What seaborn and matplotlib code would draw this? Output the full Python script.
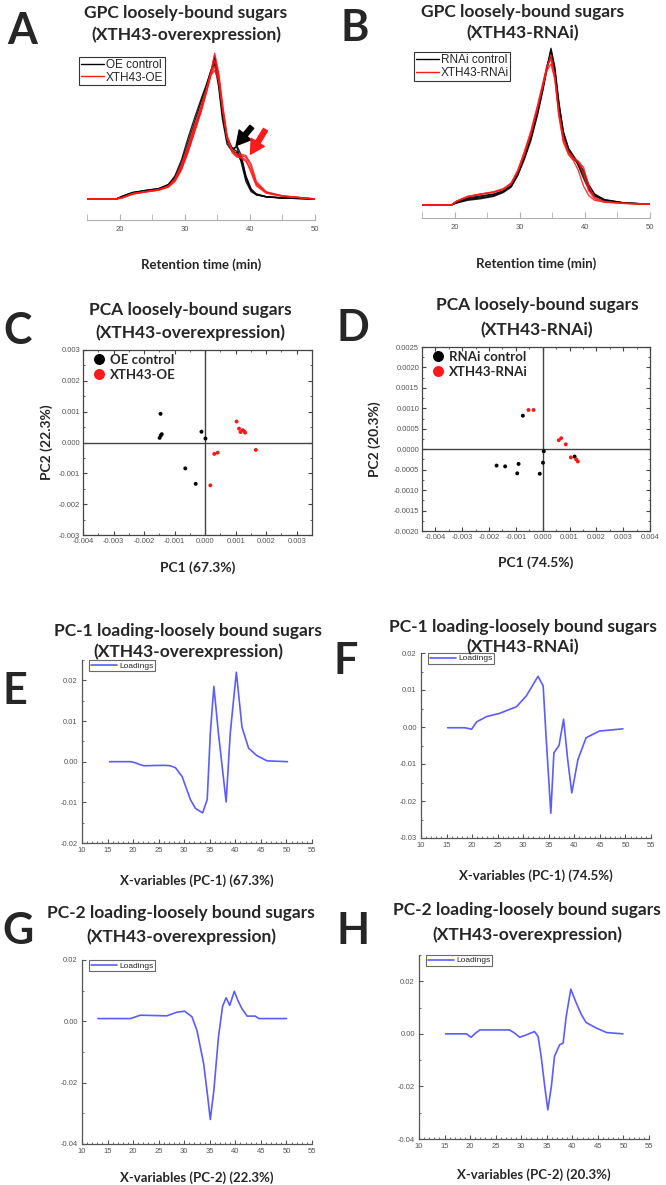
import numpy as np
import pandas as pd
import matplotlib
matplotlib.use("Agg")
import matplotlib.pyplot as plt
import seaborn as sns
from matplotlib.ticker import MultipleLocator, FormatStrFormatter

# ---------------- data ----------------
# GPC, panel A: retention time grid and normalised signal of each replicate
gpc_a_time = [15, 19.5, 20.5, 22, 24, 26, 27.5, 28.5, 29.5, 30.5, 31.5, 32.5, 33.3, 34.0,
              34.6, 35.2, 35.8, 36.5, 37.3, 38.0, 38.7, 39.4, 40.2, 41.0, 42.5, 45, 50]
oe_control = [
    [0, 0, 0.020, 0.045, 0.058, 0.070, 0.095, 0.14, 0.23, 0.35, 0.49, 0.63, 0.76, 0.88,
     0.97, 0.80, 0.58, 0.40, 0.35, 0.36, 0.25, 0.12, 0.05, 0.030, 0.015, 0.008, 0],
    [0, 0, 0.015, 0.040, 0.055, 0.068, 0.100, 0.15, 0.25, 0.39, 0.53, 0.67, 0.78, 0.89,
     0.93, 0.78, 0.55, 0.38, 0.33, 0.37, 0.30, 0.15, 0.06, 0.030, 0.015, 0.006, 0],
    [0, 0, 0.018, 0.042, 0.060, 0.072, 0.100, 0.16, 0.27, 0.42, 0.56, 0.69, 0.79, 0.88,
     0.95, 0.82, 0.60, 0.41, 0.33, 0.32, 0.26, 0.14, 0.06, 0.028, 0.014, 0.006, 0],
    [0, 0, 0.020, 0.044, 0.057, 0.070, 0.090, 0.13, 0.21, 0.33, 0.47, 0.61, 0.74, 0.87,
     0.99, 0.85, 0.62, 0.43, 0.35, 0.33, 0.28, 0.16, 0.07, 0.035, 0.016, 0.007, 0],
]
xth43_oe = [
    [0, 0, 0.010, 0.035, 0.050, 0.062, 0.085, 0.13, 0.22, 0.34, 0.48, 0.62, 0.75, 0.88,
     1.01, 0.88, 0.66, 0.44, 0.33, 0.30, 0.30, 0.29, 0.22, 0.11, 0.045, 0.020, 0],
    [0, 0, 0.012, 0.038, 0.052, 0.065, 0.090, 0.14, 0.24, 0.37, 0.51, 0.64, 0.76, 0.87,
     0.96, 0.86, 0.64, 0.43, 0.32, 0.29, 0.29, 0.27, 0.18, 0.09, 0.040, 0.018, 0],
    [0, 0, 0.008, 0.032, 0.048, 0.060, 0.082, 0.12, 0.20, 0.32, 0.46, 0.60, 0.73, 0.85,
     0.92, 0.84, 0.63, 0.42, 0.34, 0.31, 0.31, 0.30, 0.24, 0.12, 0.050, 0.022, 0],
    [0, 0, 0.010, 0.036, 0.050, 0.063, 0.088, 0.135, 0.23, 0.35, 0.49, 0.63, 0.75, 0.86,
     0.89, 0.82, 0.62, 0.42, 0.33, 0.30, 0.28, 0.26, 0.20, 0.10, 0.045, 0.020, 0],
]

# GPC, panel B
gpc_b_time = [15, 19.5, 20.3, 22, 24, 26, 27.5, 28.7, 29.7, 30.7, 31.7, 32.7, 33.5, 34.2,
              34.8, 35.4, 36.0, 36.7, 37.5, 38.3, 39.0, 39.8, 40.6, 41.5, 43, 46, 50]
rnai_control = [
    [0, 0, 0.020, 0.045, 0.058, 0.070, 0.090, 0.120, 0.19, 0.29, 0.41, 0.57, 0.72, 0.87,
     0.99, 0.86, 0.64, 0.45, 0.35, 0.30, 0.26, 0.19, 0.11, 0.060, 0.030, 0.013, 0.005],
    [0, 0, 0.015, 0.035, 0.045, 0.060, 0.085, 0.120, 0.20, 0.31, 0.44, 0.60, 0.75, 0.89,
     0.97, 0.84, 0.62, 0.44, 0.34, 0.29, 0.27, 0.22, 0.13, 0.070, 0.035, 0.014, 0.005],
    [0, 0, 0.012, 0.030, 0.040, 0.055, 0.080, 0.115, 0.19, 0.30, 0.43, 0.59, 0.74, 0.88,
     0.95, 0.85, 0.65, 0.47, 0.36, 0.31, 0.25, 0.17, 0.10, 0.055, 0.030, 0.012, 0.005],
    [0, 0, 0.018, 0.040, 0.052, 0.066, 0.090, 0.125, 0.20, 0.30, 0.42, 0.58, 0.73, 0.88,
     1.00, 0.88, 0.66, 0.46, 0.36, 0.31, 0.27, 0.20, 0.12, 0.065, 0.032, 0.013, 0.005],
]
xth43_rnai = [
    [0, 0, 0.025, 0.055, 0.070, 0.085, 0.105, 0.140, 0.22, 0.33, 0.46, 0.62, 0.76, 0.88,
     0.96, 0.82, 0.58, 0.41, 0.33, 0.29, 0.27, 0.20, 0.09, 0.040, 0.020, 0.010, 0.005],
    [0, 0, 0.022, 0.052, 0.068, 0.080, 0.100, 0.135, 0.21, 0.32, 0.45, 0.61, 0.75, 0.86,
     0.90, 0.80, 0.57, 0.40, 0.32, 0.28, 0.22, 0.12, 0.06, 0.030, 0.018, 0.010, 0.005],
    [0, 0, 0.024, 0.054, 0.070, 0.082, 0.100, 0.140, 0.22, 0.34, 0.47, 0.63, 0.77, 0.89,
     0.93, 0.81, 0.60, 0.43, 0.34, 0.30, 0.28, 0.24, 0.12, 0.050, 0.022, 0.011, 0.005],
]

# PCA scores, panel C
oe_ctrl_pc1 = [-0.00146, -0.00149, -0.00145, -0.00142, -0.00012, 0.00001, -0.00065, -0.00031]
oe_ctrl_pc2 = [0.00093, 0.00015, 0.00023, 0.00027, 0.00035, 0.00013, -0.00084, -0.00134]
oe_pc1 = [0.00103, 0.00111, 0.00116, 0.00123, 0.00128, 0.00131, 0.00166, 0.00030, 0.00041, 0.00017]
oe_pc2 = [0.00068, 0.00045, 0.00034, 0.00040, 0.00036, 0.00032, -0.00024, -0.00037, -0.00033, -0.00139]

# PCA scores, panel D
rnai_ctrl_pc1 = [-0.00074, -0.00172, -0.00140, -0.00090, -0.00095, -0.00011, 0.00001, 0.00004, 0.00119]
rnai_ctrl_pc2 = [0.00082, -0.00040, -0.00042, -0.00036, -0.00059, -0.00060, -0.00033, -0.00005, -0.00018]
rnai_pc1 = [-0.00053, -0.00034, 0.00060, 0.00069, 0.00086, 0.00105, 0.00125, 0.00131]
rnai_pc2 = [0.00096, 0.00096, 0.00022, 0.00027, 0.00012, -0.00020, -0.00025, -0.00030]

# loadings
e_x = [15.4, 19.5, 20.5, 21.5, 22.1, 26.0, 27.3, 28.3, 29.6, 31.2, 32.2, 33.6, 34.5, 35.1,
       35.8, 36.7, 38.2, 39.0, 40.2, 41.3, 42.6, 44.2, 46.2, 50.2]
e_y = [0, 0, -0.0003, -0.0008, -0.001, -0.0009, -0.001, -0.0015, -0.0037, -0.0093, -0.0115,
       -0.0126, -0.0093, 0.0069, 0.0185, 0.0069, -0.0099, 0.0069, 0.022, 0.0085, 0.0033,
       0.0015, 0.0002, 0]

f_x = [15.2, 18.6, 19.9, 20.9, 22.8, 25.4, 28.7, 30.6, 32.9, 33.9, 34.5, 35.4, 36.0, 37.0,
       37.9, 38.7, 39.5, 40.7, 42.3, 44.9, 49.5]
f_y = [-0.0002, -0.0002, -0.0006, 0.0014, 0.0028, 0.0037, 0.0055, 0.0084, 0.0137, 0.0111,
       -0.0033, -0.0233, -0.007, -0.005, 0.0021, -0.0088, -0.0178, -0.0088, -0.0029,
       -0.0011, -0.0005]

g_x = [13.1, 19.5, 21.4, 26.6, 28.6, 30.1, 31.5, 32.5, 33.8, 34.6, 35.1, 35.8, 36.7, 37.5,
       38.2, 38.9, 39.8, 40.5, 41.3, 42.3, 43.9, 44.6, 50.0]
g_y = [0.0009, 0.0009, 0.002, 0.0018, 0.003, 0.0033, 0.0015, -0.003, -0.0138, -0.0247,
       -0.032, -0.0225, -0.0051, 0.0049, 0.0077, 0.0052, 0.0098, 0.0068, 0.0041, 0.0017,
       0.0017, 0.0009, 0.0009]

h_x = [15.2, 19.3, 20.2, 20.9, 21.9, 27.7, 28.7, 29.7, 31.0, 32.6, 33.3, 33.9, 34.6, 35.2,
       35.9, 36.5, 37.5, 38.2, 38.8, 39.7, 40.8, 41.8, 42.7, 44.7, 46.7, 49.9]
h_y = [0, 0, -0.0013, 0, 0.0015, 0.0015, 0.0003, -0.0013, -0.0004, 0.0009, -0.001, -0.0086,
       -0.02, -0.0289, -0.02, -0.0086, -0.0042, -0.0035, 0.0066, 0.017, 0.0116, 0.0072,
       0.0043, 0.0022, 0.0005, 0]

# ---------------- figure ----------------
sns.set_style("white")
plt.rcParams['font.family'] = ['Liberation Sans', 'DejaVu Sans']

W, H = 666, 1185
fig = plt.figure(figsize=(W / 100, H / 100), dpi=100)

TITLE_FONT = 'Lato'
TICK_COLOR = '#555555'
BLUE = '#5c5cff'
RED = '#ff1a1a'


def px_axes(left, top, right, bottom):
    return fig.add_axes([left / W, 1 - bottom / H, (right - left) / W, (bottom - top) / H])


def ftext(x, y, s, size, **kw):
    fig.text(x / W, 1 - y / H, s, fontsize=size, ha='center', va='center', **kw)


def title(xc, y1, y2, line1, line2):
    ftext(xc, y1, line1, 12.5, family=TITLE_FONT, weight='bold')
    ftext(xc, y2, line2, 12.5, family=TITLE_FONT, weight='bold')


def letter(x, y, s):
    ftext(x, y, s, 31, family=TITLE_FONT, weight='bold')


def gpc_frame(time, groups):
    rows = []
    for name, reps in groups.items():
        for k, ys in enumerate(reps):
            for t, v in zip(time, ys):
                rows.append((name, k, t, v))
    return pd.DataFrame(rows, columns=['group', 'rep', 'time', 'signal'])


def gpc_panel(ax, df, labels):
    sns.lineplot(data=df, x='time', y='signal', hue='group', units='rep', estimator=None,
                 palette={labels[0]: 'black', labels[1]: RED}, lw=1.0, alpha=0.85,
                 ax=ax, legend=True)
    ax.set_xlim(15, 50)
    for s in ['left', 'right', 'top']:
        ax.spines[s].set_visible(False)
    ax.spines['bottom'].set_color('#b0b0b0')
    ax.set_yticks([])
    ax.xaxis.set_major_locator(MultipleLocator(10))
    ax.xaxis.set_minor_locator(MultipleLocator(5))
    ax.tick_params(axis='x', which='both', direction='in', length=4, color='#b0b0b0',
                   labelsize=5.5, labelcolor=TICK_COLOR, pad=4, bottom=True)
    ax.set_xlabel('Retention time (min)', fontsize=9.5, family=TITLE_FONT, weight='bold')
    ax.set_ylabel('')
    leg = ax.legend(loc='upper left', bbox_to_anchor=(-0.035, 0.93), fontsize=8.5,
                    frameon=True, fancybox=False, handlelength=2.0, handletextpad=0.1,
                    borderpad=0.15, labelspacing=0.05, borderaxespad=0)
    leg.get_frame().set_edgecolor('black')
    leg.get_frame().set_linewidth(0.8)
    for line in leg.get_lines():
        line.set_alpha(1)
        line.set_linewidth(1.0)
    return ax


def pca_panel(ax, df, labels, xlim, ylim, xstep, ystep, xfmt, yfmt):
    sns.scatterplot(data=df, x='pc1', y='pc2', hue='group',
                    palette={labels[0]: 'black', labels[1]: RED},
                    s=8, linewidth=0, ax=ax, legend=True)
    ax.axhline(0, color='#444444', lw=1.0, zorder=0)
    ax.axvline(0, color='#444444', lw=1.0, zorder=0)
    ax.set_xlim(*xlim)
    ax.set_ylim(*ylim)
    for s in ax.spines.values():
        s.set_color('#444444')
        s.set_linewidth(0.9)
    ax.xaxis.set_major_locator(MultipleLocator(xstep))
    ax.xaxis.set_minor_locator(MultipleLocator(xstep / 2))
    ax.yaxis.set_major_locator(MultipleLocator(ystep))
    ax.yaxis.set_minor_locator(MultipleLocator(ystep / 2))
    ax.xaxis.set_major_formatter(FormatStrFormatter(xfmt))
    ax.yaxis.set_major_formatter(FormatStrFormatter(yfmt))
    ax.tick_params(which='both', direction='in', top=True, right=True, left=True,
                   bottom=True, labelsize=5.5, labelcolor=TICK_COLOR, color='#444444', pad=2)
    ax.tick_params(which='major', length=3)
    ax.tick_params(which='minor', length=1.5)
    ax.legend(loc='upper left', bbox_to_anchor=(-0.005, 1.0), frameon=False, markerscale=2.8,
              prop={'family': TITLE_FONT, 'weight': 'bold', 'size': 9.5},
              handletextpad=-0.2, labelspacing=0.2, borderaxespad=0.2, borderpad=0.1)
    return ax


def loading_panel(ax, x, y, ylim, ystep, xlab):
    sns.lineplot(x=x, y=y, color=BLUE, lw=1.2, label='Loadings', ax=ax)
    ax.set_xlim(10, 55)
    ax.set_ylim(*ylim)
    for s in ['right', 'top']:
        ax.spines[s].set_visible(False)
    for s in ['left', 'bottom']:
        ax.spines[s].set_color('#555555')
        ax.spines[s].set_linewidth(0.9)
    ax.xaxis.set_major_locator(MultipleLocator(5))
    ax.xaxis.set_minor_locator(MultipleLocator(1))
    ax.yaxis.set_major_locator(MultipleLocator(ystep))
    ax.yaxis.set_minor_locator(MultipleLocator(ystep / 2))
    ax.yaxis.set_major_formatter(FormatStrFormatter('%.2f'))
    ax.tick_params(which='both', direction='in', left=True, bottom=True, labelsize=5.5,
                   labelcolor=TICK_COLOR, color='#555555', pad=3)
    ax.tick_params(which='major', length=3)
    ax.tick_params(which='minor', length=1.5)
    ax.set_xlabel(xlab, fontsize=9.5, family=TITLE_FONT, weight='bold')
    leg = ax.legend(loc='upper left', bbox_to_anchor=(0.03, 1.0), fontsize=6,
                    frameon=True, fancybox=False, handlelength=3.2, handletextpad=0.2,
                    borderpad=0.2, borderaxespad=0)
    leg.get_frame().set_edgecolor('#444444')
    leg.get_frame().set_linewidth(0.8)
    return ax


# ---- A ----
axA = px_axes(87, 45, 315, 220)
gpc_panel(axA, gpc_frame(gpc_a_time, {'OE control': oe_control, 'XTH43-OE': xth43_oe}),
          ['OE control', 'XTH43-OE'])
axA.set_ylim(-0.146, 1.067)
axA.xaxis.set_label_coords(0.5, -0.22)
axA.annotate('', xy=(37.9, 0.37), xytext=(40.3, 0.50),
             arrowprops=dict(facecolor='black', edgecolor='black', width=3.5, headwidth=11,
                             headlength=10, shrink=0))
axA.annotate('', xy=(40.1, 0.31), xytext=(42.4, 0.48),
             arrowprops=dict(facecolor=RED, edgecolor=RED, width=3.5, headwidth=11,
                             headlength=10, shrink=0))
title(186, 13, 35, 'GPC loosely-bound sugars', '(XTH43-overexpression)')
letter(22, 31, 'A')

# ---- B ----
axB = px_axes(422, 40, 650, 218)
gpc_panel(axB, gpc_frame(gpc_b_time, {'RNAi control': rnai_control, 'XTH43-RNAi': xth43_rnai}),
          ['RNAi control', 'XTH43-RNAi'])
axB.set_ylim(-0.083, 1.053)
axB.xaxis.set_label_coords(0.5, -0.22)
title(523, 12, 33, 'GPC loosely-bound sugars', '(XTH43-RNAi)')
letter(355, 28, 'B')

# ---- C ----
dfC = pd.DataFrame({'pc1': oe_ctrl_pc1 + oe_pc1, 'pc2': oe_ctrl_pc2 + oe_pc2,
                    'group': ['OE control'] * len(oe_ctrl_pc1) + ['XTH43-OE'] * len(oe_pc1)})
axC = px_axes(83, 350, 312, 535)
pca_panel(axC, dfC, ['OE control', 'XTH43-OE'], (-0.004, 0.0035), (-0.003, 0.003),
          0.001, 0.001, '%.3f', '%.3f')
axC.set_xlabel('PC1 (67.3%)', fontsize=10, family=TITLE_FONT, weight='bold')
axC.set_ylabel('PC2 (22.3%)', fontsize=10, family=TITLE_FONT, weight='bold')
axC.xaxis.set_label_coords(0.5, -0.14)
axC.yaxis.set_label_coords(-0.13, 0.5)
title(190, 310, 333, 'PCA loosely-bound sugars', '(XTH43-overexpression)')
letter(18, 331, 'C')

# ---- D ----
dfD = pd.DataFrame({'pc1': rnai_ctrl_pc1 + rnai_pc1, 'pc2': rnai_ctrl_pc2 + rnai_pc2,
                    'group': ['RNAi control'] * len(rnai_ctrl_pc1) + ['XTH43-RNAi'] * len(rnai_pc1)})
axD = px_axes(422, 347, 650, 531)
pca_panel(axD, dfD, ['RNAi control', 'XTH43-RNAi'], (-0.0045, 0.004), (-0.002, 0.0025),
          0.001, 0.0005, '%.3f', '%.4f')
axD.set_xlabel('PC1 (74.5%)', fontsize=10, family=TITLE_FONT, weight='bold')
axD.set_ylabel('PC2 (20.3%)', fontsize=10, family=TITLE_FONT, weight='bold')
axD.xaxis.set_label_coords(0.5, -0.14)
axD.yaxis.set_label_coords(-0.18, 0.5)
title(537, 305, 330, 'PCA loosely-bound sugars', '(XTH43-RNAi)')
letter(353, 328, 'D')

# ---- E-H ----
axE = px_axes(82, 660, 312, 843)
loading_panel(axE, e_x, e_y, (-0.02, 0.025), 0.01, 'X-variables (PC-1) (67.3%)')
axE.xaxis.set_label_coords(0.5, -0.17)
title(188, 631, 652, 'PC-1 loading-loosely bound sugars', '(XTH43-overexpression)')
letter(15, 691, 'E')

axF = px_axes(421, 653, 651, 838)
loading_panel(axF, f_x, f_y, (-0.03, 0.02), 0.01, 'X-variables (PC-1) (74.5%)')
axF.xaxis.set_label_coords(0.5, -0.17)
title(523, 627, 647, 'PC-1 loading-loosely bound sugars', '(XTH43-RNAi)')
letter(346, 661, 'F')

axG = px_axes(82, 960, 312, 1144)
loading_panel(axG, g_x, g_y, (-0.04, 0.02), 0.02, 'X-variables (PC-2) (22.3%)')
axG.xaxis.set_label_coords(0.5, -0.15)
title(181, 913, 937, 'PC-2 loading-loosely bound sugars', '(XTH43-overexpression)')
letter(18, 931, 'G')

axH = px_axes(419, 955, 649, 1139)
loading_panel(axH, h_x, h_y, (-0.04, 0.03), 0.02, 'X-variables (PC-2) (20.3%)')
axH.xaxis.set_label_coords(0.5, -0.16)
title(527, 910, 935, 'PC-2 loading-loosely bound sugars', '(XTH43-overexpression)')
letter(353, 931, 'H')

fig.savefig('out.png', dpi=100)
